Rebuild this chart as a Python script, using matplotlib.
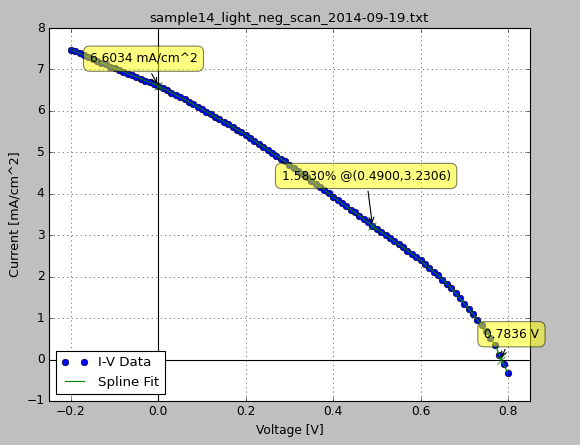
import matplotlib
matplotlib.use("Agg")
import matplotlib.pyplot as plt
import numpy as np

plt.style.use('classic')

voltage = [round(-0.20 + 0.01 * i, 2) for i in range(101)]
current = [
    7.48, 7.44, 7.39, 7.34, 7.30, 7.25, 7.21, 7.16, 7.12, 7.07,
    7.03, 6.99, 6.95, 6.90, 6.86, 6.82, 6.78, 6.73, 6.69, 6.65,
    6.60, 6.55, 6.50, 6.44, 6.39, 6.33, 6.28, 6.22, 6.16, 6.10,
    6.04, 5.98, 5.92, 5.86, 5.80, 5.74, 5.68, 5.62, 5.55, 5.49,
    5.42, 5.35, 5.28, 5.21, 5.14, 5.06, 4.99, 4.92, 4.85, 4.78,
    4.70, 4.63, 4.55, 4.48, 4.40, 4.32, 4.24, 4.16, 4.09, 4.01,
    3.93, 3.85, 3.77, 3.70, 3.62, 3.55, 3.47, 3.39, 3.31, 3.23,
    3.15, 3.08, 3.01, 2.93, 2.86, 2.78, 2.71, 2.63, 2.55, 2.47,
    2.39, 2.30, 2.21, 2.12, 2.03, 1.93, 1.83, 1.72, 1.61, 1.48,
    1.35, 1.22, 1.09, 0.96, 0.83, 0.68, 0.52, 0.36, 0.12, -0.12,
    -0.33,
]

isc_label = "6.6034 mA/cm^2"
isc = (0.0, 6.6034)
mpp_label = "1.5830% @(0.4900,3.2306)"
mpp = (0.49, 3.2306)
voc_label = "0.7836 V"
voc = (0.7836, 0.0)

fig = plt.figure(figsize=(7.25, 5.5625), dpi=80)
fig.patch.set_facecolor('0.75')
ax = fig.add_axes([0.0845, 0.099, 0.829, 0.838])

ax.plot(voltage, current, 'bo', markersize=6, label='I-V Data')
ax.plot(voltage, current, 'g-', label='Spline Fit')
ax.axhline(0, color='k')
ax.axvline(0, color='k')

for (px, py) in (isc, mpp, voc):
    ax.plot([px], [py], 'x', color='green', markersize=7, mew=1, alpha=0.7)

bbox = dict(boxstyle='round,pad=0.5', fc='yellow', alpha=0.5)
arrow = dict(arrowstyle='->', connectionstyle='arc3,rad=0')
ax.annotate(isc_label, xy=isc, xytext=(-0.157, 7.26), va='center', ha='left',
            bbox=bbox, arrowprops=arrow, fontsize=11, annotation_clip=False)
ax.annotate(mpp_label, xy=mpp, xytext=(0.282, 4.43), va='center', ha='left',
            bbox=bbox, arrowprops=arrow, fontsize=11, annotation_clip=False)
ax.annotate(voc_label, xy=voc, xytext=(0.745, 0.61), va='center', ha='left',
            bbox=bbox, arrowprops=arrow, fontsize=11, annotation_clip=False)

ax.set_xlim(-0.25, 0.85)
ax.set_ylim(-1, 8)
ax.set_xticks([-0.2, 0.0, 0.2, 0.4, 0.6, 0.8])
ax.set_yticks(list(range(-1, 9)))
ax.tick_params(labelsize=11)
ax.grid(True)
ax.set_xlabel('Voltage [V]', fontsize=11)
ax.set_ylabel('Current [mA/cm^2]', fontsize=11.5)
ax.set_title('sample14_light_neg_scan_2014-09-19.txt', fontsize=12)
leg = ax.legend(loc='lower left', numpoints=2, fontsize=12)

fig.savefig('out.png', dpi=80, facecolor=fig.get_facecolor())
